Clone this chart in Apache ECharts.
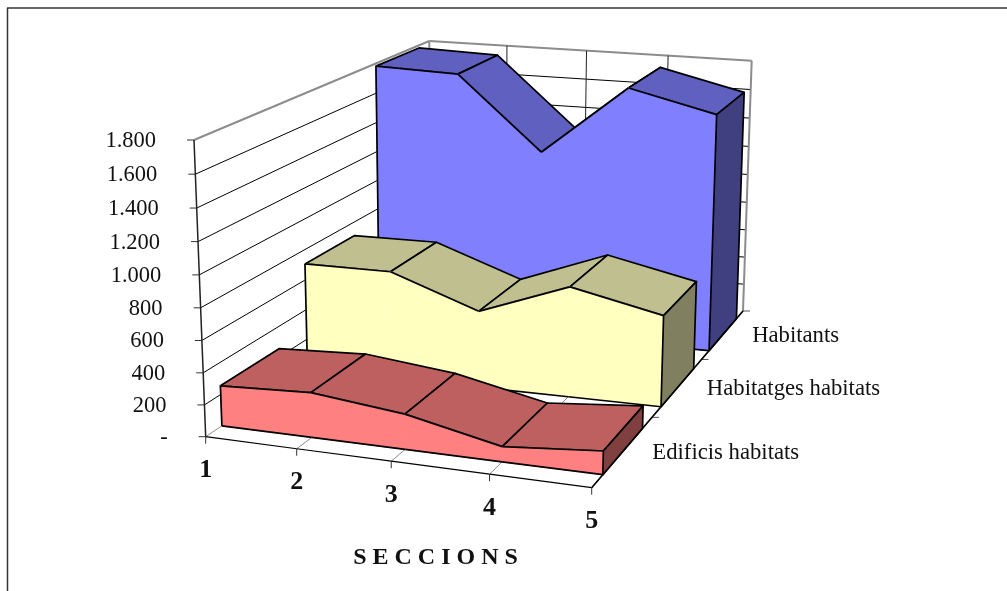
<!DOCTYPE html>
<html>
<head>
<meta charset="utf-8">
<style>html,body{margin:0;padding:0;background:#fff}#c{width:1007px;height:591px}</style>
<script src="https://cdn.jsdelivr.net/npm/echarts@6/dist/echarts.min.js"></script>
</head>
<body>
<div id="c"></div>
<script>
const sections = ['1', '2', '3', '4', '5'];
const edificis = [255, 282, 220, 94, 145];
const habitatges = [706, 709, 505, 723, 596];
const habitants = [1782, 1766, 1280, 1752, 1617];
const rowNames = ['Edificis habitats', 'Habitatges habitats', 'Habitants'];
const valueTicks = [0, 200, 400, 600, 800, 1000, 1200, 1400, 1600, 1800];
const valueLabels = ['-', '200', '400', '600', '800', '1.000', '1.200', '1.400', '1.600', '1.800'];
const axisTitle = 'S E C C I O N S';

// Perspective frame of the 3D box (corners on screen: front-left, front-right, back-right, back-left)
const floorCorners = [[205.7, 436.7], [591.7, 487.7], [743, 311], [431, 286]];
const roofCorners = [[194, 140], [598, 178], [751.7, 60.7], [429.3, 41]];
const halfDepth = 0.11;
const sectionTrim = 0.035;   // fine correction of the perspective along the sections
const heightPersp = 0.96;    // perspective along the vertical direction

function homography(c) {
  const [A, B, C, D] = c;
  const sx = A[0] - B[0] + C[0] - D[0], sy = A[1] - B[1] + C[1] - D[1];
  const d1x = B[0] - C[0], d1y = B[1] - C[1], d2x = D[0] - C[0], d2y = D[1] - C[1];
  const det = d1x * d2y - d1y * d2x;
  const g = (sx * d2y - sy * d2x) / det, h = (d1x * sy - d1y * sx) / det;
  return (u, w) => {
    const W = 1 + g * u + h * w;
    return [
      (A[0] + (B[0] * (1 + g) - A[0]) * u + (D[0] * (1 + h) - A[0]) * w) / W,
      (A[1] + (B[1] * (1 + g) - A[1]) * u + (D[1] * (1 + h) - A[1]) * w) / W
    ];
  };
}
const floorH = homography(floorCorners), roofH = homography(roofCorners);
function project(u, v, w) {
  const uu = u + sectionTrim * u * (1 - u);
  const vv = heightPersp * v / (1 - v + heightPersp * v);
  const f = floorH(uu, w), r = roofH(uu, w);
  return [f[0] + (r[0] - f[0]) * vv, f[1] + (r[1] - f[1]) * vv];
}
// category index + value -> unit box coordinates, through the hidden cartesian axes
function unit(params, api, cat, val) {
  const p = api.coord([cat, val]), s = params.coordSys;
  return [(p[0] - s.x) / s.width, (s.y + s.height - p[1]) / s.height];
}
const FONT = '"Liberation Serif","Times New Roman",serif';
const line = (a, b, stroke, lineWidth, z2) => ({
  type: 'line', silent: true, z2: z2 || 0,
  shape: { x1: a[0], y1: a[1], x2: b[0], y2: b[1] },
  style: { stroke, lineWidth, fill: null }
});
const poly = (points, fill, stroke, lineWidth, z2) => ({
  type: 'polygon', silent: true, z2,
  shape: { points },
  style: { fill, stroke, lineWidth, lineJoin: 'round' }
});
const label = (text, x, y, font, align) => ({
  type: 'text', silent: true, x, y,
  style: { text, font, fill: '#111', textAlign: align, textVerticalAlign: 'middle' }
});

function ribbon(name, values, rowIndex, front, top, side, z) {
  const wc = (rowIndex + 0.5) / rowNames.length;
  const w0 = wc - halfDepth, w1 = wc + halfDepth;
  return {
    name, type: 'custom', coordinateSystem: 'cartesian2d', z, clip: false,
    data: values.map((v, i) => [i, v]),
    renderItem(params, api) {
      const i = params.dataIndex, n = sections.length, ch = [];
      const a = unit(params, api, i, api.value(1));
      const edge = 1.7;
      if (i === 0) {
        ch.push(line(project(a[0], a[1], w0), project(a[0], 0, w0), '#000', edge, 3));
      }
      if (i < n - 1) {
        const b = unit(params, api, i + 1, api.value(1, i + 1));
        ch.push(poly([project(a[0], a[1], w0), project(b[0], b[1], w0), project(b[0], b[1], w1), project(a[0], a[1], w1)], top, '#000', edge, 1));
        ch.push(poly([project(a[0], a[1], w0), project(b[0], b[1], w0), project(b[0], 0, w0), project(a[0], 0, w0)], front, front, 1.2, 2));
        ch.push(line(project(a[0], a[1], w0), project(b[0], b[1], w0), '#000', edge, 3));
        ch.push(line(project(a[0], 0, w0), project(b[0], 0, w0), '#000', edge, 3));
      } else {
        ch.push(poly([project(a[0], a[1], w0), project(a[0], a[1], w1), project(a[0], 0, w1), project(a[0], 0, w0)], side, '#000', edge, 3));
      }
      return { type: 'group', children: ch };
    }
  };
}

const wallSeries = {
  name: 'walls', type: 'custom', coordinateSystem: 'cartesian2d', z: 1, clip: false,
  data: valueTicks.map((v, i) => [0, v, i]),
  renderItem(params, api) {
    const v = unit(params, api, 0, api.value(1))[1];
    const i = params.dataIndex, isTop = i === valueTicks.length - 1;
    const p0 = project(0, v, 0), p1 = project(0, v, 1), p2 = project(1, v, 1);
    const col = isTop ? '#8c8c8c' : '#000', lw = isTop ? 2 : 1;
    const ch = [];
    if (i > 0) {
      ch.push(line(p0, p1, col, lw), line(p1, p2, col, lw));
    }
    ch.push(line([p0[0] - 7, p0[1]], p0, '#333', 1));
    ch.push(label(valueLabels[i], p0[0] - 38, p0[1] + 1, '22.5px ' + FONT, 'right'));
    return { type: 'group', children: ch };
  }
};
const sectionSeries = {
  name: 'sections', type: 'custom', coordinateSystem: 'cartesian2d', z: 1, clip: false,
  data: sections.map((s, i) => [i, 0]),
  renderItem(params, api) {
    const i = params.dataIndex, u = unit(params, api, i, 0)[0];
    const ch = [];
    const fb = project(u, 0, 0), bb = project(u, 0, 1), bt = project(u, 1, 1), ft = project(u, 1, 0);
    const inner = i > 0 && i < sections.length - 1;
    ch.push(line(bb, bt, inner ? '#222' : '#8c8c8c', inner ? 1 : 2));
    ch.push(line(fb, bb, '#8c8c8c', 1));
    ch.push(line(fb, [fb[0], fb[1] + 7], '#333', 1));
    if (i < sections.length - 1) {
      ch.push(line(fb, project(unit(params, api, i + 1, 0)[0], 0, 0), '#000', 1.2));
    }
    ch.push(label(sections[i], fb[0], fb[1] + 34, 'bold 26px ' + FONT, 'center'));
    if (i === 0) ch.push(line(ft, fb, '#222', 1.5, 1));
    if (i === sections.length - 1) ch.push(line(fb, bb, '#000', 1.7, 1));
    return { type: 'group', children: ch };
  }
};
const rowSeries = {
  name: 'rows', type: 'custom', coordinateSystem: 'cartesian2d', z: 1, clip: false,
  data: rowNames.map((s, i) => [sections.length - 1, 0]),
  renderItem(params, api) {
    const i = params.dataIndex, u = unit(params, api, api.value(0), 0)[0];
    const end = project(u, 0, (i + 1) / rowNames.length);
    const mid = project(u, 0, (i + 0.5) / rowNames.length);
    return {
      type: 'group', children: [
        line(end, [end[0] + 7, end[1]], '#555', 1),
        label(rowNames[i], mid[0] + 29, mid[1] + 2, '22.7px ' + FONT, 'left')
      ]
    };
  }
};

const chart = echarts.init(document.getElementById('c'), null, { renderer: 'canvas' });
chart.setOption({
  animation: false,
  backgroundColor: '#fff',
  grid: { left: 0, right: 0, top: 0, bottom: 0 },
  xAxis: { type: 'category', data: sections, boundaryGap: false, show: false },
  yAxis: { type: 'value', min: 0, max: 1800, interval: 200, show: false },
  graphic: [
    { type: 'line', shape: { x1: 7, y1: 8, x2: 1007, y2: 8 }, style: { stroke: '#333', lineWidth: 1.5 }, silent: true },
    { type: 'line', shape: { x1: 7.5, y1: 8, x2: 7.5, y2: 591 }, style: { stroke: '#333', lineWidth: 1.5 }, silent: true },
    { type: 'text', x: 435.5, y: 558, silent: true,
      style: { text: axisTitle, font: 'bold 24px ' + FONT, fill: '#111', textAlign: 'center', textVerticalAlign: 'middle' } }
  ],
  series: [
    wallSeries, sectionSeries, rowSeries,
    ribbon('Habitants', habitants, 2, '#8080FF', '#6060C0', '#404080', 2),
    ribbon('Habitatges habitats', habitatges, 1, '#FFFFC0', '#BFBF90', '#808060', 3),
    ribbon('Edificis habitats', edificis, 0, '#FF8080', '#BF6060', '#804040', 4)
  ]
});
</script>
</body>
</html>
